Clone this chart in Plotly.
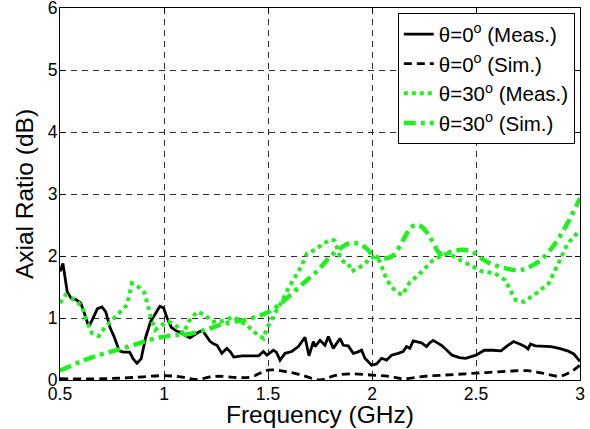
import plotly.graph_objects as go

# ---- data ----
f_meas0 = [0.50, 0.514, 0.535, 0.555, 0.575, 0.600, 0.620, 0.638, 0.655, 0.680, 0.702, 0.720, 0.740, 0.760,
           0.785, 0.805, 0.835, 0.852, 0.870, 0.890, 0.912, 0.935, 0.955, 0.980, 0.998, 1.015, 1.035, 1.060,
           1.080, 1.100, 1.125, 1.145, 1.165, 1.185, 1.200, 1.222, 1.240, 1.255, 1.278, 1.302, 1.320, 1.335,
           1.375, 1.420, 1.455, 1.478, 1.495, 1.526, 1.540, 1.558, 1.582, 1.614, 1.646, 1.678, 1.697, 1.718,
           1.726, 1.750, 1.774, 1.790, 1.814, 1.846, 1.862, 1.886, 1.910, 1.930, 1.950, 1.966, 1.998, 2.022,
           2.046, 2.070, 2.094, 2.126, 2.150, 2.166, 2.182, 2.198, 2.218, 2.238, 2.262, 2.278, 2.294, 2.334,
           2.360, 2.385, 2.420, 2.450, 2.500, 2.540, 2.580, 2.620, 2.650, 2.680, 2.710, 2.735, 2.750, 2.762,
           2.785, 2.820, 2.860, 2.900, 2.940, 2.970, 3.000]
ar_meas0 = [1.75, 1.88, 1.42, 1.31, 1.30, 1.24, 1.05, 0.86, 0.97, 1.15, 1.18, 1.10, 0.85, 0.70,
            0.47, 0.45, 0.45, 0.34, 0.27, 0.34, 0.69, 0.94, 1.05, 1.19, 1.16, 1.00, 0.85, 0.79,
            0.77, 0.72, 0.68, 0.73, 0.77, 0.80, 0.72, 0.62, 0.58, 0.56, 0.43, 0.51, 0.45, 0.37,
            0.39, 0.39, 0.39, 0.46, 0.40, 0.48, 0.45, 0.32, 0.43, 0.46, 0.54, 0.69, 0.39, 0.62,
            0.54, 0.64, 0.56, 0.70, 0.51, 0.67, 0.56, 0.55, 0.43, 0.45, 0.48, 0.35, 0.24, 0.26,
            0.35, 0.32, 0.40, 0.43, 0.46, 0.54, 0.51, 0.63, 0.62, 0.60, 0.54, 0.60, 0.64, 0.56,
            0.48, 0.40, 0.36, 0.35, 0.40, 0.48, 0.48, 0.47, 0.55, 0.62, 0.58, 0.54, 0.50, 0.58,
            0.55, 0.55, 0.54, 0.51, 0.47, 0.42, 0.30]

f_sim0 = [0.50, 0.70, 0.85, 1.00, 1.08, 1.15, 1.25, 1.35, 1.42, 1.50, 1.58, 1.66, 1.75, 1.82,
          1.90, 2.00, 2.08, 2.15, 2.25, 2.35, 2.45, 2.55, 2.65, 2.75, 2.82, 2.90, 2.95, 3.00]
ar_sim0 = [0.02, 0.02, 0.04, 0.07, 0.05, 0.01, 0.06, 0.04, 0.05, 0.16, 0.14, 0.08, 0.00, 0.07,
           0.10, 0.08, 0.06, 0.02, 0.06, 0.08, 0.10, 0.12, 0.14, 0.15, 0.11, 0.06, 0.12, 0.24]

f_meas30 = [0.50, 0.526, 0.574, 0.606, 0.630, 0.654, 0.686, 0.718, 0.758, 0.798, 0.822, 0.846, 0.878,
            0.907, 0.926, 0.940, 0.958, 0.990, 1.022, 1.054, 1.094, 1.118, 1.158, 1.198, 1.230, 1.270,
            1.310, 1.334, 1.366, 1.398, 1.430, 1.462, 1.478, 1.494, 1.518, 1.542, 1.566, 1.598, 1.630,
            1.662, 1.686, 1.726, 1.758, 1.798, 1.820, 1.846, 1.862, 1.886, 1.902, 1.930, 1.958, 1.990,
            2.014, 2.038, 2.062, 2.086, 2.118, 2.145, 2.182, 2.222, 2.246, 2.286, 2.334, 2.366, 2.410,
            2.480, 2.530, 2.590, 2.640, 2.690, 2.730, 2.790, 2.850, 2.900, 2.940, 3.000]
ar_meas30 = [1.24, 1.37, 1.29, 1.18, 0.94, 0.75, 0.71, 0.86, 0.99, 1.13, 1.21, 1.56, 1.50,
             1.40, 1.16, 0.97, 0.81, 0.89, 0.94, 0.89, 0.75, 0.94, 1.10, 1.05, 0.94, 0.94,
             0.99, 1.02, 0.94, 0.89, 0.78, 0.71, 0.67, 0.83, 0.99, 1.13, 1.26, 1.48, 1.66,
             1.85, 2.04, 2.10, 2.18, 2.26, 2.25, 1.99, 1.91, 1.88, 1.75, 1.80, 1.85, 1.96,
             1.99, 1.91, 1.69, 1.53, 1.42, 1.37, 1.58, 1.69, 1.77, 1.91, 2.01, 2.04, 1.96,
             1.83, 1.75, 1.72, 1.61, 1.29, 1.26, 1.40, 1.56, 1.91, 2.20, 2.42]

f_sim30 = [0.50, 0.64, 0.80, 0.96, 1.04, 1.10, 1.20, 1.29, 1.39, 1.47, 1.52, 1.58, 1.66, 1.74,
           1.806, 1.886, 1.934, 1.974, 2.006, 2.054, 2.102, 2.150, 2.190, 2.222, 2.254, 2.286,
           2.326, 2.350, 2.430, 2.480, 2.540, 2.590, 2.700, 2.740, 2.810, 2.880, 2.940, 3.000]
ar_sim30 = [0.15, 0.35, 0.51, 0.67, 0.72, 0.73, 0.81, 0.91, 0.97, 1.05, 1.13, 1.29, 1.53, 1.77,
            2.01, 2.20, 2.20, 2.12, 2.01, 1.96, 2.01, 2.26, 2.47, 2.50, 2.42, 2.26,
            2.04, 2.04, 2.10, 2.07, 1.93, 1.85, 1.77, 1.80, 1.93, 2.20, 2.53, 2.93]

names = ["θ=0<sup>o</sup> (Meas.)", "θ=0<sup>o</sup> (Sim.)",
         "θ=30<sup>o</sup> (Meas.)", "θ=30<sup>o</sup> (Sim.)"]
x_title = "Frequency (GHz)"
y_title = "Axial Ratio (dB)"
x_ticks = [0.5, 1, 1.5, 2, 2.5, 3]
x_tick_labels = ["0.5", "1", "1.5", "2", "2.5", "3"]
y_ticks = [0, 1, 2, 3, 4, 5, 6]

GREEN = "#1FF01F"
FONT = "Arial, Liberation Sans, sans-serif"

fig = go.Figure()
fig.add_trace(go.Scatter(x=f_meas0, y=ar_meas0, mode="lines", name=names[0],
                         line=dict(color="black", width=2.8, dash="solid")))
fig.add_trace(go.Scatter(x=f_sim0, y=ar_sim0, mode="lines", name=names[1],
                         line=dict(color="black", width=2.8, dash="8px,5px", shape="spline")))
fig.add_trace(go.Scatter(x=f_meas30, y=ar_meas30, mode="lines", name=names[2],
                         line=dict(color=GREEN, width=4, dash="4px,4px")))
fig.add_trace(go.Scatter(x=f_sim30, y=ar_sim30, mode="lines", name=names[3],
                         line=dict(color=GREEN, width=4.5, dash="12px,5px,4px,5px", shape="spline")))

axis_common = dict(showline=True, linecolor="black", linewidth=1.2, mirror="ticks",
                   ticks="inside", ticklen=5, tickcolor="black",
                   showgrid=True, gridcolor="#303030", gridwidth=1, griddash="6px,5px",
                   zeroline=False, ticklabeloverflow="allow", automargin=False,
                   tickfont=dict(family=FONT, size=17.5, color="black"))

fig.update_xaxes(range=[0.5, 3], tickvals=x_ticks, ticktext=x_tick_labels,
                 ticklabelstandoff=-2, **axis_common)
fig.update_yaxes(range=[0, 6], tickvals=y_ticks, ticklabelstandoff=-2, **axis_common)

fig.add_annotation(text=x_title, xref="paper", yref="paper", x=0.5, y=-0.094,
                   xanchor="center", yanchor="middle", showarrow=False,
                   font=dict(family=FONT, size=24.5, color="black"))
fig.add_annotation(text=y_title, xref="paper", yref="paper", x=-0.069, y=0.5,
                   xanchor="center", yanchor="middle", textangle=-90, showarrow=False,
                   font=dict(family=FONT, size=24.5, color="black"))

fig.update_layout(
    width=590, height=429,
    margin=dict(l=60, r=10, t=8, b=49),
    plot_bgcolor="white", paper_bgcolor="white",
    font=dict(family=FONT, color="black"),
    showlegend=True,
    legend=dict(x=0.99, y=0.986, xanchor="right", yanchor="top",
                bgcolor="white", bordercolor="black", borderwidth=1,
                font=dict(family=FONT, size=20.5, color="black"),
                itemwidth=30, tracegroupgap=0),
)

fig.write_html("out.html")
